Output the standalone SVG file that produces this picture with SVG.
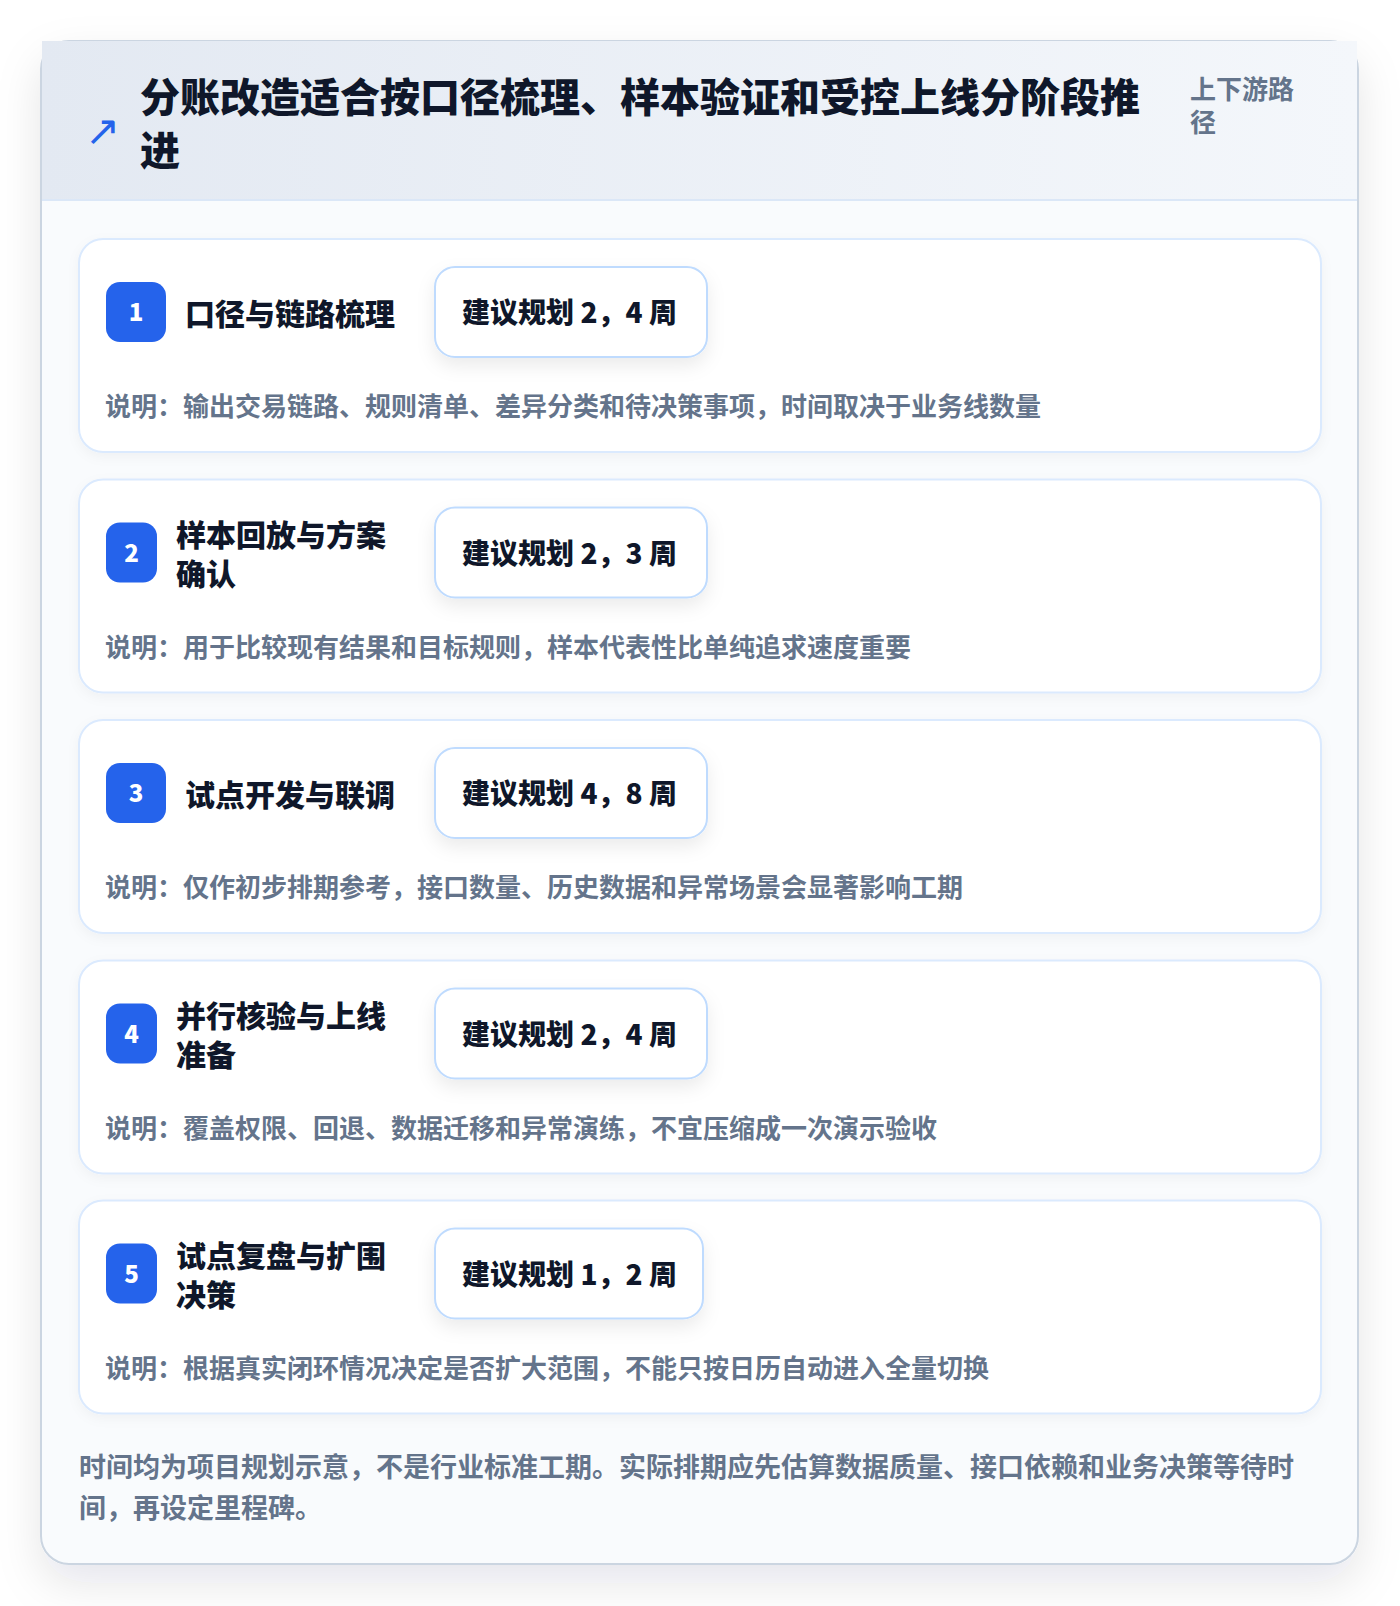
<svg xmlns="http://www.w3.org/2000/svg" width="1400" height="1606" viewBox="0 0 1400 1606">
<defs>
<style>
text{font-family:"Noto Sans CJK SC","Noto Sans",sans-serif;font-weight:700}
.title{font-size:40px;fill:#0f172a;font-weight:800}
.tag{font-size:26px;fill:#64748b}
.card{fill:#ffffff;stroke:#dbeafe;stroke-width:2}
.badge{fill:#2563eb}
.num{font-size:24px;fill:#ffffff;text-anchor:middle;font-weight:800}
.ntitle{font-size:30px;fill:#0f172a;font-weight:800}
.pill{fill:#ffffff;stroke:#bfdbfe;stroke-width:2}
.ptext{font-size:28px;fill:#0f172a;font-weight:800}
.desc{font-size:26px;fill:#64748b}
.foot{font-size:27px;fill:#64748b}
</style>
<linearGradient id="hdr" x1="0" y1="0" x2="1" y2="0">
<stop offset="0" stop-color="#e3e9f2"/>
<stop offset="1" stop-color="#f4f7fb"/>
</linearGradient>
<filter id="outerShadow" x="-10%" y="-10%" width="120%" height="120%">
<feDropShadow dx="0" dy="18" stdDeviation="22" flood-color="#0f172a" flood-opacity="0.10"/>
</filter>
<filter id="cardShadow" x="-5%" y="-10%" width="110%" height="130%">
<feDropShadow dx="0" dy="4" stdDeviation="6" flood-color="#0f172a" flood-opacity="0.04"/>
</filter>
<filter id="pillShadow" x="-20%" y="-30%" width="140%" height="170%">
<feDropShadow dx="0" dy="8" stdDeviation="9" flood-color="#0f172a" flood-opacity="0.08"/>
</filter>
</defs>
<rect x="0" y="0" width="1400" height="1606" fill="#ffffff"/>

<g id="frame">
<rect x="41" y="41" width="1317" height="1523" rx="28" fill="#f9fbfd" stroke="#cbd5e1" stroke-width="2" filter="url(#outerShadow)"/>
<rect x="42" y="41" width="1315" height="159" fill="url(#hdr)"/>
<line x1="42" y1="200" x2="1357" y2="200" stroke="#dbe7f7" stroke-width="2"/>
</g>

<g id="header">
<text x="85" y="145" style="font-family:'DejaVu Sans',sans-serif;font-size:42px;fill:#2563eb;font-weight:400">↗</text>
<text class="title" x="140" y="112">分账改造适合按口径梳理、样本验证和受控上线分阶段推</text>
<text class="title" x="140" y="165">进</text>
<text class="tag" x="1190" y="99">上下游路</text>
<text class="tag" x="1190" y="132">径</text>
</g>

<g id="connectors"></g>

<g id="step1" transform="translate(0,239)">
<rect class="card" x="79" y="0" width="1242" height="213" rx="24" filter="url(#cardShadow)"/>
<rect class="badge" x="106" y="43" width="60" height="60" rx="14"/>
<text class="num" x="136" y="82">1</text>
<text class="ntitle" x="185" y="86">口径与链路梳理</text>
<rect class="pill" x="435" y="28" width="272" height="90" rx="20" filter="url(#pillShadow)"/>
<text class="ptext" x="462" y="84">建议规划 2，4 周</text>
<text class="desc" x="105" y="177">说明：输出交易链路、规则清单、差异分类和待决策事项，时间取决于业务线数量</text>
</g>

<g id="step2" transform="translate(0,479.5)">
<rect class="card" x="79" y="0" width="1242" height="213" rx="24" filter="url(#cardShadow)"/>
<rect class="badge" x="106" y="43" width="51" height="60" rx="14"/>
<text class="num" x="131.5" y="82">2</text>
<text class="ntitle" x="176" y="66">样本回放与方案</text>
<text class="ntitle" x="176" y="105">确认</text>
<rect class="pill" x="435" y="28" width="272" height="90" rx="20" filter="url(#pillShadow)"/>
<text class="ptext" x="462" y="84">建议规划 2，3 周</text>
<text class="desc" x="105" y="177">说明：用于比较现有结果和目标规则，样本代表性比单纯追求速度重要</text>
</g>

<g id="step3" transform="translate(0,720)">
<rect class="card" x="79" y="0" width="1242" height="213" rx="24" filter="url(#cardShadow)"/>
<rect class="badge" x="106" y="43" width="60" height="60" rx="14"/>
<text class="num" x="136" y="82">3</text>
<text class="ntitle" x="185" y="86">试点开发与联调</text>
<rect class="pill" x="435" y="28" width="272" height="90" rx="20" filter="url(#pillShadow)"/>
<text class="ptext" x="462" y="84">建议规划 4，8 周</text>
<text class="desc" x="105" y="177">说明：仅作初步排期参考，接口数量、历史数据和异常场景会显著影响工期</text>
</g>

<g id="step4" transform="translate(0,960.5)">
<rect class="card" x="79" y="0" width="1242" height="213" rx="24" filter="url(#cardShadow)"/>
<rect class="badge" x="106" y="43" width="51" height="60" rx="14"/>
<text class="num" x="131.5" y="82">4</text>
<text class="ntitle" x="176" y="66">并行核验与上线</text>
<text class="ntitle" x="176" y="105">准备</text>
<rect class="pill" x="435" y="28" width="272" height="90" rx="20" filter="url(#pillShadow)"/>
<text class="ptext" x="462" y="84">建议规划 2，4 周</text>
<text class="desc" x="105" y="177">说明：覆盖权限、回退、数据迁移和异常演练，不宜压缩成一次演示验收</text>
</g>

<g id="step5" transform="translate(0,1200.5)">
<rect class="card" x="79" y="0" width="1242" height="213" rx="24" filter="url(#cardShadow)"/>
<rect class="badge" x="106" y="43" width="51" height="60" rx="14"/>
<text class="num" x="131.5" y="82">5</text>
<text class="ntitle" x="176" y="66">试点复盘与扩围</text>
<text class="ntitle" x="176" y="105">决策</text>
<rect class="pill" x="435" y="28" width="268" height="90" rx="20" filter="url(#pillShadow)"/>
<text class="ptext" x="462" y="84">建议规划 1，2 周</text>
<text class="desc" x="105" y="177">说明：根据真实闭环情况决定是否扩大范围，不能只按日历自动进入全量切换</text>
</g>

<g id="footnote">
<text class="foot" x="79" y="1477">时间均为项目规划示意，不是行业标准工期。实际排期应先估算数据质量、接口依赖和业务决策等待时</text>
<text class="foot" x="79" y="1518">间，再设定里程碑。</text>
</g>
</svg>
